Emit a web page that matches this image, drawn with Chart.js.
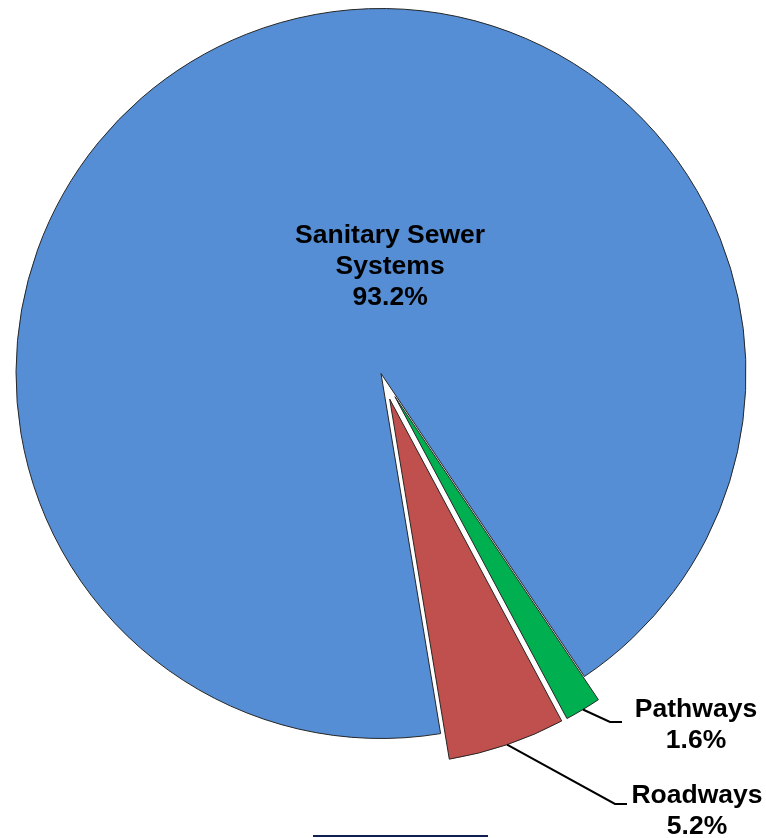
<!DOCTYPE html>
<html>
<head>
<meta charset="utf-8">
<script src="https://cdn.jsdelivr.net/npm/chart.js@4.4.1/dist/chart.umd.min.js"></script>
<style>
  html, body { margin: 0; padding: 0; background: #fff; }
  #wrap { width: 766px; height: 838px; position: relative; }
</style>
</head>
<body>
<div id="wrap"><canvas id="pie"></canvas></div>
<script>
const categories = ["Sanitary Sewer Systems", "Pathways", "Roadways"];
const shares = [93.2, 1.6, 5.2];
const labelLines = [["Sanitary Sewer", "Systems"], ["Pathways"], ["Roadways"]];

const sliceColours = ["#558ed5", "#00b050", "#c0504d"];
const explode = [0, 27, 27]; // px, pulled-out slices
const labelFont = "bold 26.5px 'Liberation Sans', Arial, sans-serif";
const lineGap = 31;

// callouts for the two small slices (elbow, end of leader, text centre/baseline)
const callouts = {
  1: { elbow: [610, 722], endX: 622, text: [696, 717] },
  2: { elbow: [615, 804], endX: 627, text: [697, 803] },
};

const explodePlugin = {
  id: "explode",
  afterDatasetsUpdate(chart) {
    chart.getDatasetMeta(0).data.forEach((arc, i) => {
      const d = explode[i];
      if (!d) return;
      const mid = (arc.startAngle + arc.endAngle) / 2;
      arc.x += Math.cos(mid) * d;
      arc.y += Math.sin(mid) * d;
    });
  },
};

const labelPlugin = {
  id: "sliceLabels",
  afterDatasetsDraw(chart) {
    const ctx = chart.ctx;
    const arcs = chart.getDatasetMeta(0).data;
    ctx.save();
    ctx.font = labelFont;
    ctx.fillStyle = "#000";
    ctx.textAlign = "center";
    ctx.textBaseline = "alphabetic";

    arcs.forEach((arc, i) => {
      const lines = labelLines[i].concat([shares[i].toFixed(1) + "%"]);
      const r = arc.outerRadius;
      let tx, ty;
      if (!callouts[i]) {
        // big slice, label inside
        tx = arc.x + 0.025 * r;
        ty = arc.y - 0.3575 * r;
      } else {
        const c = callouts[i];
        const mid = (arc.startAngle + arc.endAngle) / 2;
        ctx.beginPath();
        ctx.moveTo(arc.x + Math.cos(mid) * r, arc.y + Math.sin(mid) * r);
        ctx.lineTo(c.elbow[0], c.elbow[1]);
        ctx.lineTo(c.endX, c.elbow[1]);
        ctx.lineWidth = 2;
        ctx.strokeStyle = "#000";
        ctx.stroke();
        tx = c.text[0];
        ty = c.text[1];
      }
      lines.forEach((t, k) => ctx.fillText(t, tx, ty + k * lineGap));
    });

    // short rule at the bottom edge
    ctx.beginPath();
    ctx.moveTo(313, 836);
    ctx.lineTo(488, 836);
    ctx.lineWidth = 2;
    ctx.strokeStyle = "#0f1f4f";
    ctx.stroke();
    ctx.restore();
  },
};

new Chart(document.getElementById("pie"), {
  type: "pie",
  data: {
    labels: categories,
    datasets: [
      {
        data: shares,
        backgroundColor: sliceColours,
        borderColor: "#262626",
        borderWidth: 1,
        radius: 365,
      },
    ],
  },
  options: {
    responsive: true,
    maintainAspectRatio: false,
    animation: false,
    events: [],
    rotation: 170.6,
    layout: {
      padding: { top: 0, left: 0, right: 4, bottom: 91 },
    },
    plugins: {
      legend: { display: false },
      tooltip: { enabled: false },
    },
  },
  plugins: [explodePlugin, labelPlugin],
});
</script>
</body>
</html>
